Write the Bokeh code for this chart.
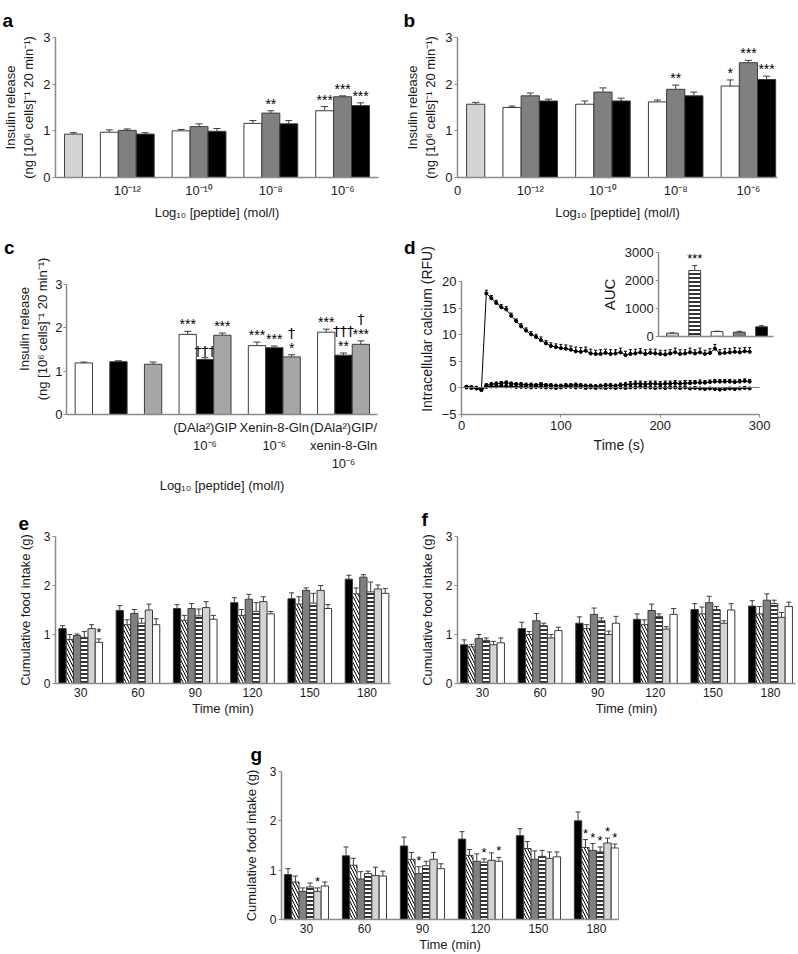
from bokeh.plotting import figure
from bokeh.models import (Range1d, LinearAxis, FixedTicker, Whisker, TeeHead,
                          ColumnDataSource, Title)
from bokeh.layouts import column, row
from bokeh.embed import file_html
from bokeh.resources import INLINE
from bokeh.core.properties import value

FONT = "Liberation Sans"
DAG_FONT = "DejaVu Sans"
AXC = "#8a8a8a"
TXT = "#1a1a1a"
EDGE = "#3c3c3c"

# ------------------------------------------------------------------ data
conc_labels = ["10⁻¹²", "10⁻¹⁰", "10⁻⁸", "10⁻⁶"]

# panel a
a_ctrl = [0.93]
a_ctrl_err = [0.03]
a_white = [0.97, 1.00, 1.16, 1.43]
a_white_err = [0.05, 0.03, 0.06, 0.09]
a_gray = [1.01, 1.09, 1.38, 1.73]
a_gray_err = [0.03, 0.06, 0.05, 0.02]
a_black = [0.93, 0.99, 1.15, 1.54]
a_black_err = [0.03, 0.06, 0.07, 0.06]
a_white_sig = ["", "", "", "***"]
a_gray_sig = ["", "", "**", "***"]
a_black_sig = ["", "", "", "***"]

# panel b
b_ctrl = [1.57]
b_ctrl_err = [0.04]
b_white = [1.50, 1.57, 1.62, 1.96]
b_white_err = [0.03, 0.07, 0.04, 0.13]
b_gray = [1.75, 1.83, 1.89, 2.46]
b_gray_err = [0.06, 0.09, 0.09, 0.05]
b_black = [1.64, 1.64, 1.75, 2.10]
b_black_err = [0.04, 0.06, 0.08, 0.07]
b_white_sig = ["", "", "", "*"]
b_gray_sig = ["", "", "**", "***"]
b_black_sig = ["", "", "", "***"]

# panel c
c_labels = ["(DAla²)GIP\n10⁻⁶", "Xenin-8-Gln\n10⁻⁶", "(DAla²)GIP/\nxenin-8-Gln\n10⁻⁶"]
c_ctrl_white = [1.19]
c_ctrl_white_err = [0.02]
c_ctrl_black = [1.22]
c_ctrl_black_err = [0.02]
c_ctrl_gray = [1.16]
c_ctrl_gray_err = [0.05]
c_white = [1.85, 1.59, 1.90]
c_white_err = [0.07, 0.08, 0.07]
c_black = [1.27, 1.54, 1.37]
c_black_err = [0.04, 0.04, 0.05]
c_gray = [1.83, 1.33, 1.62]
c_gray_err = [0.05, 0.05, 0.08]
c_white_sig = ["***", "***", "***"]
c_black_sig = ["†††", "***", "**"]
c_black_sig2 = ["", "", "†††"]
c_gray_sig = ["***", "*", "***"]
c_gray_sig2 = ["", "†", "†"]

# panel d (time course)
d_time = [5, 10, 15, 20, 25, 30, 35, 40, 45, 50, 55, 60, 65, 70, 75, 80, 85, 90, 95, 100,
          105, 110, 115, 120, 125, 130, 135, 140, 145, 150, 155, 160, 165, 170, 175, 180,
          185, 190, 195, 200, 205, 210, 215, 220, 225, 230, 235, 240, 245, 250, 255, 260,
          265, 270, 275, 280, 285, 290]
d_stim = [0.2, 0.1, 0.0, -0.4,
          17.8, 16.9, 16.0, 15.2, 14.8, 13.6, 12.6, 11.6, 10.8, 10.1, 9.6, 9.0, 8.4, 7.9, 7.7, 7.5,
          7.4, 7.2, 6.9, 6.8, 7.0, 6.5, 6.4, 6.4, 6.6, 6.4,
          6.5, 6.7, 6.2, 6.4, 6.5, 6.7, 6.4, 6.6, 6.5, 6.4,
          6.3, 6.5, 6.7, 6.4, 6.5, 6.7, 6.5, 6.7, 6.4, 6.6,
          7.4, 6.5, 6.6, 6.7, 6.8, 6.7, 6.9, 6.8]
d_stim_err = [0.2, 0.2, 0.2, 0.3,
              0.6, 0.5, 0.5, 0.5, 0.5, 0.5, 0.4, 0.5, 0.5, 0.5, 0.5, 0.6, 0.5, 0.6, 0.6, 0.7,
              0.7, 0.7, 0.8, 0.8, 0.7, 0.8, 0.7, 0.8, 0.7, 0.8,
              0.7, 0.8, 0.7, 0.8, 0.8, 0.7, 0.8, 0.7, 0.8, 0.7,
              0.8, 0.7, 0.8, 0.8, 0.7, 0.8, 0.7, 0.8, 0.7, 0.8,
              0.8, 0.7, 0.8, 0.7, 0.8, 0.8, 0.7, 0.8]
d_low1 = [0.2, 0.1, 0.0, -0.2,
          0.5, 0.7, 0.8, 0.9, 1.0, 0.8, 0.7, 0.7, 0.6, 0.6, 0.5, 0.7, 0.5, 0.5, 0.4, 0.4,
          0.5, 0.5, 0.6, 0.5, 0.4, 0.4, 0.3, 0.4, 0.5, 0.5,
          0.4, 0.6, 0.6, 0.7, 0.8, 0.8, 0.7, 0.8, 0.8, 0.7,
          0.8, 0.8, 0.9, 0.8, 0.9, 0.9, 1.0, 1.0, 1.0, 1.1,
          1.2, 1.2, 1.2, 1.2, 1.1, 1.2, 1.3, 1.2]
d_low1_err = [0.2, 0.2, 0.2, 0.2,
              0.3, 0.3, 0.3, 0.3, 0.3, 0.3, 0.3, 0.3, 0.3, 0.3, 0.3, 0.3, 0.3, 0.3, 0.3, 0.3,
              0.3, 0.3, 0.3, 0.3, 0.3, 0.3, 0.3, 0.3, 0.3, 0.3,
              0.3, 0.3, 0.4, 0.5, 0.5, 0.5, 0.5, 0.5, 0.5, 0.5,
              0.5, 0.5, 0.5, 0.5, 0.5, 0.5, 0.4, 0.5, 0.4, 0.4,
              0.4, 0.4, 0.4, 0.4, 0.4, 0.4, 0.4, 0.4]
d_low2 = [0.1, 0.0, -0.1, -0.3,
          0.2, 0.3, 0.3, 0.4, 0.3, 0.3, 0.2, 0.2, 0.2, 0.1, 0.2, 0.2, 0.1, 0.1, 0.0, 0.1,
          0.2, 0.2, 0.1, 0.2, 0.0, 0.1, 0.0, 0.1, 0.0, 0.1,
          0.0, 0.1, 0.0, 0.1, 0.1, 0.2, 0.1, 0.1, 0.0, 0.1,
          0.0, 0.1, 0.1, 0.0, 0.1, -0.1, 0.0, -0.1, -0.2, -0.1,
          -0.2, -0.3, -0.2, -0.1, -0.2, -0.1, 0.0, -0.1]
d_low2_err = [0.2, 0.2, 0.2, 0.2,
              0.3, 0.3, 0.3, 0.3, 0.3, 0.3, 0.2, 0.2, 0.2, 0.2, 0.2, 0.3, 0.2, 0.2, 0.2, 0.2,
              0.2, 0.2, 0.2, 0.2, 0.2, 0.2, 0.2, 0.2, 0.2, 0.2,
              0.2, 0.2, 0.2, 0.2, 0.2, 0.2, 0.2, 0.2, 0.2, 0.2,
              0.2, 0.2, 0.2, 0.2, 0.2, 0.2, 0.2, 0.2, 0.2, 0.2,
              0.2, 0.2, 0.2, 0.2, 0.2, 0.2, 0.2, 0.2]

# panel d inset (AUC)
auc_vals = [110, 2350, 170, 150, 340]
auc_err = [15, 180, 15, 30, 40]
auc_fill = ["#d4d4d4", "white", "white", "#808080", "black"]
auc_hatch = [None, "horizontal_line", None, None, None]
auc_sig = ["", "***", "", "", ""]

# panels e, f, g (cumulative food intake)
food_times = ["30", "60", "90", "120", "150", "180"]

e_black = [1.12, 1.49, 1.53, 1.65, 1.73, 2.13]
e_black_err = [0.06, 0.10, 0.08, 0.10, 0.12, 0.08]
e_hatch = [0.90, 1.20, 1.29, 1.39, 1.62, 1.83]
e_hatch_err = [0.10, 0.10, 0.10, 0.12, 0.15, 0.12]
e_gray = [0.98, 1.43, 1.53, 1.72, 1.90, 2.17]
e_gray_err = [0.03, 0.08, 0.10, 0.10, 0.05, 0.05]
e_stripe = [0.94, 1.23, 1.38, 1.47, 1.64, 1.87]
e_stripe_err = [0.12, 0.10, 0.14, 0.18, 0.20, 0.20]
e_light = [1.12, 1.50, 1.55, 1.67, 1.90, 1.93]
e_light_err = [0.08, 0.12, 0.12, 0.10, 0.10, 0.08]
e_white = [0.84, 1.20, 1.31, 1.42, 1.53, 1.84]
e_white_err = [0.07, 0.12, 0.08, 0.05, 0.08, 0.10]
e_white_sig = ["*", "", "", "", "", ""]

f_black = [0.79, 1.12, 1.23, 1.31, 1.51, 1.58]
f_black_err = [0.10, 0.13, 0.13, 0.11, 0.12, 0.11]
f_hatch = [0.75, 1.00, 1.12, 1.20, 1.42, 1.42]
f_hatch_err = [0.05, 0.06, 0.08, 0.10, 0.14, 0.15]
f_gray = [0.92, 1.28, 1.41, 1.49, 1.65, 1.70]
f_gray_err = [0.08, 0.15, 0.13, 0.13, 0.13, 0.13]
f_stripe = [0.88, 1.18, 1.28, 1.37, 1.51, 1.63]
f_stripe_err = [0.05, 0.05, 0.06, 0.05, 0.06, 0.07]
f_light = [0.79, 0.93, 1.00, 1.11, 1.23, 1.35]
f_light_err = [0.07, 0.07, 0.07, 0.05, 0.05, 0.10]
f_white = [0.83, 1.08, 1.23, 1.41, 1.50, 1.57]
f_white_err = [0.10, 0.07, 0.14, 0.12, 0.13, 0.09]

g_black = [0.91, 1.29, 1.49, 1.63, 1.70, 2.00]
g_black_err = [0.12, 0.18, 0.18, 0.15, 0.14, 0.18]
g_hatch = [0.76, 1.10, 1.22, 1.30, 1.44, 1.46]
g_hatch_err = [0.12, 0.14, 0.14, 0.12, 0.14, 0.16]
g_gray = [0.57, 0.82, 0.93, 1.18, 1.22, 1.40]
g_gray_err = [0.07, 0.15, 0.14, 0.15, 0.17, 0.14]
g_stripe = [0.66, 0.93, 1.09, 1.16, 1.28, 1.37]
g_stripe_err = [0.08, 0.05, 0.09, 0.07, 0.12, 0.10]
g_light = [0.57, 0.89, 1.22, 1.20, 1.24, 1.55]
g_light_err = [0.07, 0.17, 0.14, 0.15, 0.13, 0.10]
g_white = [0.68, 0.88, 1.03, 1.18, 1.27, 1.45]
g_white_err = [0.08, 0.10, 0.10, 0.08, 0.10, 0.08]
g_hatch_sig = ["", "", "", "", "", "*"]
g_gray_sig = ["", "", "*", "", "", "*"]
g_stripe_sig = ["", "", "", "*", "", "*"]
g_light_sig = ["*", "", "", "", "", "*"]
g_white_sig = ["", "", "", "*", "", "*"]

# ------------------------------------------------------------------ helpers
HATCH = {
    "left_diagonal_line": dict(hatch_scale=6, hatch_weight=1.0),
    "horizontal_line": dict(hatch_scale=4, hatch_weight=1.6),
}


def style_axis(ax, tick_size="13px", label_size="13px"):
    ax.axis_line_color = AXC
    ax.axis_line_width = 1.5
    ax.major_tick_line_color = AXC
    ax.minor_tick_line_color = None
    ax.major_tick_in = 0
    ax.major_tick_out = 3
    ax.major_label_text_font = FONT
    ax.major_label_text_font_size = tick_size
    ax.major_label_text_color = TXT
    ax.axis_label_text_font = FONT
    ax.axis_label_text_font_size = label_size
    ax.axis_label_text_font_style = "normal"
    ax.axis_label_text_color = TXT
    ax.major_label_standoff = 2
    ax.axis_label_standoff = 4


def make_fig(w, h, left, right, top, bottom, xr, yr, tick_size="13px"):
    p = figure(width=w, height=h, x_range=xr, y_range=yr, output_backend="svg",
               toolbar_location=None, min_border_left=left, min_border_right=right,
               min_border_top=top, min_border_bottom=bottom)
    p.outline_line_color = None
    p.xgrid.visible = False
    p.ygrid.visible = False
    p.background_fill_color = "white"
    p.border_fill_color = "white"
    for ax in p.axis:
        style_axis(ax, tick_size)
    return p


def flat_x(p):
    p.xaxis.major_tick_line_color = None
    p.xaxis.major_tick_out = 0
    p.xaxis.major_label_standoff = 5


def sig_text(p, xs, ups, labels, yoff, size, xname, yname):
    fonts = [DAG_FONT if "†" in s else FONT for s in labels]
    src = ColumnDataSource(dict(x=xs, y=ups, t=labels, f=fonts))
    p.text(x="x", y="y", text="t", text_font="f", source=src, text_align="center",
           text_baseline="bottom", y_offset=yoff, text_font_size=value(size),
           text_color="black", x_range_name=xname, y_range_name=yname)


def add_bars(p, xs, tops, errs, fill, width, hatch=None, sig=None, sig2=None,
             xname="default", yname="default", cap=7, star="14px"):
    ups = [t + e for t, e in zip(tops, errs)]
    src = ColumnDataSource(dict(x=xs, top=tops, up=ups))
    kw = {}
    if hatch:
        kw = dict(hatch_pattern=hatch, hatch_color="black", **HATCH[hatch])
    p.vbar(x="x", top="top", bottom=0, width=width, source=src, fill_color=fill,
           line_color=EDGE, line_width=1, x_range_name=xname, y_range_name=yname, **kw)
    p.add_layout(Whisker(source=src, base="x", upper="up", lower="top", dimension="height",
                         line_color=EDGE, line_width=1,
                         upper_head=TeeHead(size=cap, line_color=EDGE, line_width=1),
                         lower_head=None, x_range_name=xname, y_range_name=yname))
    if sig:
        sig_text(p, xs, ups, sig, 1, star, xname, yname)
    if sig2:
        sig_text(p, xs, ups, sig2, -14, star, xname, yname)


def title_letter(p, txt, left_img, frame_left, standoff=10):
    # panel letter as a left-aligned plot title
    p.add_layout(Title(text=txt, align="left", offset=left_img - frame_left,
                       vertical_align="top", standoff=standoff, text_font=FONT,
                       text_font_size="19px", text_font_style="bold",
                       text_color="black"), "above")


def axis_letter(p, txt, n_pad):
    # panel letter as the horizontal label of an extra (invisible) left axis;
    # padding lines below lift the letter towards the top of the frame
    label = txt + "\n " * n_pad
    ax = LinearAxis(ticker=FixedTicker(ticks=[]),
                    axis_line_color=None, major_tick_line_color=None,
                    minor_tick_line_color=None, major_tick_out=0, major_tick_in=0,
                    major_label_standoff=0, major_label_text_font_size="0px",
                    axis_label=label, axis_label_orientation="horizontal",
                    axis_label_standoff=0, axis_label_text_font=FONT,
                    axis_label_text_font_size="19px", axis_label_text_font_style="bold",
                    axis_label_text_line_height=1.3, axis_label_text_color="black")
    p.add_layout(ax, "left")


INS_LABEL = "Insulin release\n(ng [10⁶ cells]⁻¹ 20 min⁻¹)"
LOG_LABEL = "Log₁₀ [peptide] (mol/l)"
W = 0.25

# ------------------------------------------------------------------ panel a
gx = [i + 1 for i in range(len(conc_labels))]
pa = make_fig(400, 235, 54, 22, 37, 58, Range1d(0, 4.5), Range1d(0, 3))
pa.yaxis.ticker = FixedTicker(ticks=[0, 1, 2, 3])
pa.yaxis.axis_label = INS_LABEL
pa.xaxis.ticker = FixedTicker(ticks=gx)
pa.xaxis.major_label_overrides = {x: lab for x, lab in zip(gx, conc_labels)}
pa.xaxis.axis_label = LOG_LABEL
flat_x(pa)
add_bars(pa, [W], a_ctrl, a_ctrl_err, "#d4d4d4", W)
add_bars(pa, [x - W for x in gx], a_white, a_white_err, "white", W, sig=a_white_sig)
add_bars(pa, gx, a_gray, a_gray_err, "#808080", W, sig=a_gray_sig)
add_bars(pa, [x + W for x in gx], a_black, a_black_err, "black", W, sig=a_black_sig)
title_letter(pa, "a", 1, 54)

# ------------------------------------------------------------------ panel b
pb = make_fig(398, 235, 57, 21, 37, 58, Range1d(0, 4.4), Range1d(0, 3))
pb.yaxis.ticker = FixedTicker(ticks=[0, 1, 2, 3])
pb.yaxis.axis_label = INS_LABEL
pb.xaxis.ticker = FixedTicker(ticks=[0] + gx)
overrides_b = {0: "0"}
overrides_b.update({x: lab for x, lab in zip(gx, conc_labels)})
pb.xaxis.major_label_overrides = overrides_b
pb.xaxis.axis_label = LOG_LABEL
flat_x(pb)
add_bars(pb, [W], b_ctrl, b_ctrl_err, "#d4d4d4", W)
add_bars(pb, [x - W for x in gx], b_white, b_white_err, "white", W, sig=b_white_sig)
add_bars(pb, gx, b_gray, b_gray_err, "#808080", W, sig=b_gray_sig)
add_bars(pb, [x + W for x in gx], b_black, b_black_err, "black", W, sig=b_black_sig)
title_letter(pb, "b", 403, 457)

# ------------------------------------------------------------------ panel c
# frame is shared in height with panel d (row alignment); axis drawn only 0..3
cx = [i + 1 for i in range(len(c_labels))]
pc = make_fig(400, 260, 54, 23, 8, 77, Range1d(-1, 3.49), Range1d(0, 3.947))
pc.yaxis.ticker = FixedTicker(ticks=[0, 1, 2, 3])
pc.yaxis.bounds = (0, 3)
pc.yaxis.axis_label = INS_LABEL
pc.yaxis.major_label_standoff = 1
pc.yaxis.axis_label_standoff = 2
pc.xaxis.ticker = FixedTicker(ticks=cx)
pc.xaxis.major_label_overrides = {x: lab for x, lab in zip(cx, c_labels)}
pc.xaxis.axis_label = LOG_LABEL
flat_x(pc)
add_bars(pc, [-3 * W], c_ctrl_white, c_ctrl_white_err, "white", W)
add_bars(pc, [-W], c_ctrl_black, c_ctrl_black_err, "black", W)
add_bars(pc, [W], c_ctrl_gray, c_ctrl_gray_err, "#a6a6a6", W)
add_bars(pc, [x - W for x in cx], c_white, c_white_err, "white", W, sig=c_white_sig)
add_bars(pc, cx, c_black, c_black_err, "black", W, sig=c_black_sig, sig2=c_black_sig2)
add_bars(pc, [x + W for x in cx], c_gray, c_gray_err, "#a6a6a6", W, sig=c_gray_sig, sig2=c_gray_sig2)
axis_letter(pc, "c", 6)

# ------------------------------------------------------------------ panel d
pd_ = make_fig(398, 260, 58, 22, 8, 77, Range1d(0, 317), Range1d(-5, 27.2))
pd_.yaxis.ticker = FixedTicker(ticks=[-5, 0, 5, 10, 15, 20])
pd_.yaxis.bounds = (-5, 20)
pd_.yaxis.axis_label = "Intracellular calcium (RFU)"
pd_.yaxis.axis_label_text_font_size = "14px"
pd_.xaxis.ticker = FixedTicker(ticks=[0, 100, 200, 300])
pd_.xaxis.bounds = (0, 300)
pd_.xaxis.axis_label = "Time (s)"
pd_.xaxis.axis_label_text_font_size = "14px"
pd_.xaxis.major_label_standoff = 3

zero_axis = LinearAxis(fixed_location=0, bounds=(0, 300), ticker=FixedTicker(ticks=[]),
                       axis_line_color="#777777", axis_line_width=1,
                       major_tick_line_color=None, minor_tick_line_color=None,
                       major_label_text_font_size="0px")
pd_.add_layout(zero_axis, "below")

for vals, errs in [(d_low2, d_low2_err), (d_low1, d_low1_err), (d_stim, d_stim_err)]:
    ups = [v + e for v, e in zip(vals, errs)]
    src = ColumnDataSource(dict(t=d_time, v=vals, up=ups))
    pd_.add_layout(Whisker(source=src, base="t", upper="up", lower="v", dimension="height",
                           line_color="black", line_width=1,
                           upper_head=TeeHead(size=3, line_color="black", line_width=1),
                           lower_head=None))
    pd_.line("t", "v", source=src, line_color="black", line_width=1)
    pd_.scatter("t", "v", source=src, size=3.2, color="black")

# inset
auc_x = list(range(len(auc_vals)))
pd_.extra_x_ranges = {"aucx": Range1d(-9.47, 4.67)}
pd_.extra_y_ranges = {"auc": Range1d(-2791, 3314)}
for i in auc_x:
    add_bars(pd_, [auc_x[i]], [auc_vals[i]], [auc_err[i]], auc_fill[i], 0.53,
             hatch=auc_hatch[i], sig=[auc_sig[i]], xname="aucx", yname="auc", cap=5, star="13px")
inset_y = LinearAxis(x_range_name="aucx", y_range_name="auc", fixed_location=-0.62,
                     bounds=(0, 3000), ticker=FixedTicker(ticks=[0, 1000, 2000, 3000]),
                     axis_label="AUC")
style_axis(inset_y)
inset_y.axis_label_text_font_size = "15px"
pd_.add_layout(inset_y, "left")
inset_x = LinearAxis(x_range_name="aucx", y_range_name="auc", fixed_location=0,
                     bounds=(-0.62, 4.53), ticker=FixedTicker(ticks=[]),
                     major_tick_line_color=None, minor_tick_line_color=None,
                     major_label_text_font_size="0px")
inset_x.axis_line_color = AXC
inset_x.axis_line_width = 1.5
pd_.add_layout(inset_x, "below")
axis_letter(pd_, "d", 6)

# ------------------------------------------------------------------ panels e, f, g
FOOD_STYLE = [("black", None), ("white", "left_diagonal_line"), ("#808080", None),
              ("white", "horizontal_line"), ("#d3d3d3", None), ("white", None)]
BW = 0.127
fx = [i + 1 for i in range(len(food_times))]


def food_panel(w, h, left, right, top, bottom, xr, series, sigs):
    p = make_fig(w, h, left, right, top, bottom, xr, Range1d(0, 3), tick_size="12px")
    p.yaxis.ticker = FixedTicker(ticks=[0, 1, 2, 3])
    p.yaxis.axis_label = "Cumulative food intake (g)"
    p.yaxis.axis_label_standoff = 8
    p.xaxis.ticker = FixedTicker(ticks=fx)
    p.xaxis.major_label_overrides = {x: lab for x, lab in zip(fx, food_times)}
    p.xaxis.axis_label = "Time (min)"
    flat_x(p)
    p.xaxis.major_label_standoff = 4
    p.xaxis.axis_label_standoff = 1
    for k, ((vals, errs), (fill, hatch), sig) in enumerate(zip(series, FOOD_STYLE, sigs)):
        xs = [x + (k - 2.5) * BW for x in fx]
        add_bars(p, xs, vals, errs, fill, BW, hatch=hatch, sig=sig, cap=5, star="13px")
    return p


pe = food_panel(400, 227, 55, 10, 41, 39, Range1d(0.56, 6.41),
                [(e_black, e_black_err), (e_hatch, e_hatch_err), (e_gray, e_gray_err),
                 (e_stripe, e_stripe_err), (e_light, e_light_err), (e_white, e_white_err)],
                [None, None, None, None, None, e_white_sig])
title_letter(pe, "e", 18, 55)

pf = food_panel(398, 227, 57, 3, 41, 39, Range1d(0.566, 6.434),
                [(f_black, f_black_err), (f_hatch, f_hatch_err), (f_gray, f_gray_err),
                 (f_stripe, f_stripe_err), (f_light, f_light_err), (f_white, f_white_err)],
                [None] * 6)
title_letter(pf, "f", 421, 457)

pg = food_panel(640, 232, 281, 22, 49, 35, Range1d(0.57, 6.38),
                [(g_black, g_black_err), (g_hatch, g_hatch_err), (g_gray, g_gray_err),
                 (g_stripe, g_stripe_err), (g_light, g_light_err), (g_white, g_white_err)],
                [None, g_hatch_sig, g_gray_sig, g_stripe_sig, g_light_sig, g_white_sig])
title_letter(pg, "g", 250, 281)

p = column(row(pa, pb), row(pc, pd_), row(pe, pf), pg)
open("out.html", "w").write(file_html(p, INLINE))
